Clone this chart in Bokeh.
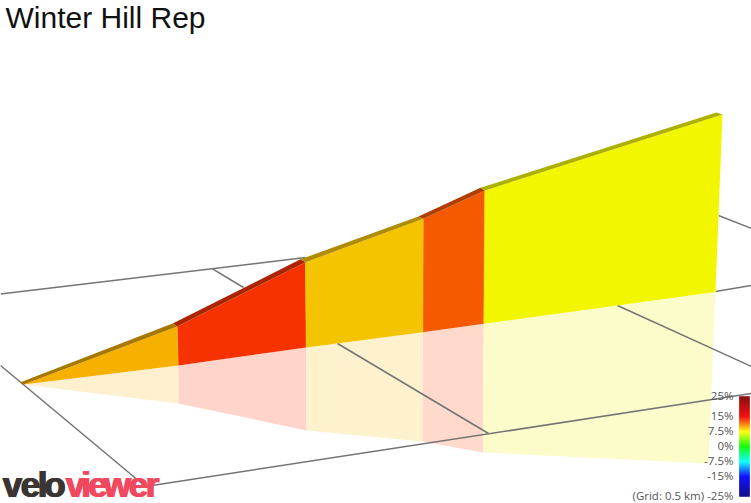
from bokeh.embed import file_html
from bokeh.resources import INLINE
from bokeh.plotting import figure
from bokeh.core.properties import value
import numpy as np

# Chart values (projected 3D profile, in picture units)
crest_x = [23, 176.7, 305, 422.7, 484.3, 722]
crest_y = [384, 326, 261.7, 218.3, 190, 114]
ridge_x = [20, 172.7, 300, 418, 480, 716]
ridge_y = [381.7, 322.7, 258.8, 216, 187.3, 112]
foot_x = [23, 177.7, 305.7, 422.3, 483.3, 715]
foot_y = [384, 365, 347, 331.7, 323.3, 291.5]
shade_x = [23, 178, 306, 422, 482.5, 708]
shade_y = [384, 403, 430, 441, 452, 463]
segment_colors = ["#F5B000", "#F53200", "#F5C400", "#F55A00", "#F2F700"]
ridge_colors = ["#A67800", "#AD2400", "#AE8B00", "#AF3E00", "#ADB000"]
shade_colors = ["#FDF0CE", "#FFD5CB", "#FDF2CD", "#FFD9CC", "#FCFCCB"]

grid_x = [[0, 305], [212, 243], [337, 488], [0, 145], [145, 751], [617, 751], [715, 751], [718, 751]]
grid_y = [[293.5, 257], [268.3, 287], [343, 433], [365, 486], [486, 393], [305, 366], [291, 285], [215, 228]]

legend_values = [25, 15, 7.5, 0, -7.5, -15, -25]
legend_labels = ["25%", "15%", "7.5%", "0%", "-7.5%", "-15%", "(Grid: 0.5 km) -25%"]
legend_label_y = [395, 415, 430, 445, 460, 475, 495]
ramp_values = [25, 15, 7.5, 0, -7.5, -15, -25]
ramp_colors = [(128, 0, 0), (245, 0, 0), (255, 255, 0), (0, 255, 0), (0, 255, 255), (0, 0, 255), (0, 0, 128)]

logo_dark = list("velo")
logo_light = list("viewer")

p = figure(width=751, height=503, x_range=(0, 751), y_range=(503, 0),
           output_backend="svg", toolbar_location=None, min_border=0,
           outline_line_color=None, background_fill_color="white")
p.axis.visible = False
p.grid.visible = False

n = len(segment_colors)
seg = range(n)

# reflection on the ground
p.patches([[shade_x[i], shade_x[i+1], foot_x[i+1], foot_x[i]] for i in seg],
          [[shade_y[i], shade_y[i+1], foot_y[i+1], foot_y[i]] for i in seg],
          fill_color=shade_colors, line_color=None)

# grid
p.multi_line(grid_x, grid_y, line_color="#747474", line_width=1.5)

# walls
p.patches([[crest_x[i], crest_x[i+1], foot_x[i+1], foot_x[i]] for i in seg],
          [[crest_y[i], crest_y[i+1], foot_y[i+1], foot_y[i]] for i in seg],
          fill_color=segment_colors, line_color=None)
# seams between the walls
p.segment(crest_x[1:-1], crest_y[1:-1], foot_x[1:-1], foot_y[1:-1], line_color="#F0C830", line_width=1, line_alpha=0.6)
# ridge on top
p.patches([[ridge_x[i], ridge_x[i+1], crest_x[i+1], crest_x[i]] for i in seg],
          [[ridge_y[i], ridge_y[i+1], crest_y[i+1], crest_y[i]] for i in seg],
          fill_color=ridge_colors, line_color=None)

# colour scale
lev = np.linspace(25, -25, 101)
rgb = [np.interp(-lev, -np.array(ramp_values), [c[k] for c in ramp_colors]) for k in range(3)]
cols = ["#%02x%02x%02x" % (int(r), int(g), int(b)) for r, g, b in zip(*rgb)]
ys = 396 + (25 - lev) * 2
p.quad(left=739, right=749, top=ys[:-1], bottom=ys[1:], fill_color=cols[:-1], line_color=cols[:-1], line_width=0.5)
p.text(x=[733] * len(legend_labels), y=legend_label_y, text=legend_labels,
       text_font=value("Open Sans"), text_font_size="11.5px", text_color="#555555",
       text_align="right", text_baseline="middle")

# title
p.text(x=[5], y=[16.5], text=["Winter Hill Rep"], text_font=value("Liberation Sans"),
       text_font_size="30px", text_color="#111111", text_align="left", text_baseline="alphabetic")

# logo
for dx in (0, 0.7, 1.4):
    p.text(x=[1.5 + dx, 19.5 + dx, 36.5 + dx, 43 + dx], y=[484] * 4, text=logo_dark, text_font=value("Liberation Sans"),
           text_font_style="bold", text_font_size="35px", text_color="#3A3533", text_baseline="alphabetic")
    p.text(x=[64.5 + dx, 80 + dx, 87 + dx, 102.5 + dx, 127.5 + dx, 144.5 + dx], y=[484] * 6, text=logo_light,
           text_font=value("Liberation Sans"), text_font_style="bold", text_font_size="35px",
           text_color="#F0495F", text_baseline="alphabetic")

open("out.html", "w").write(file_html(p, INLINE))
